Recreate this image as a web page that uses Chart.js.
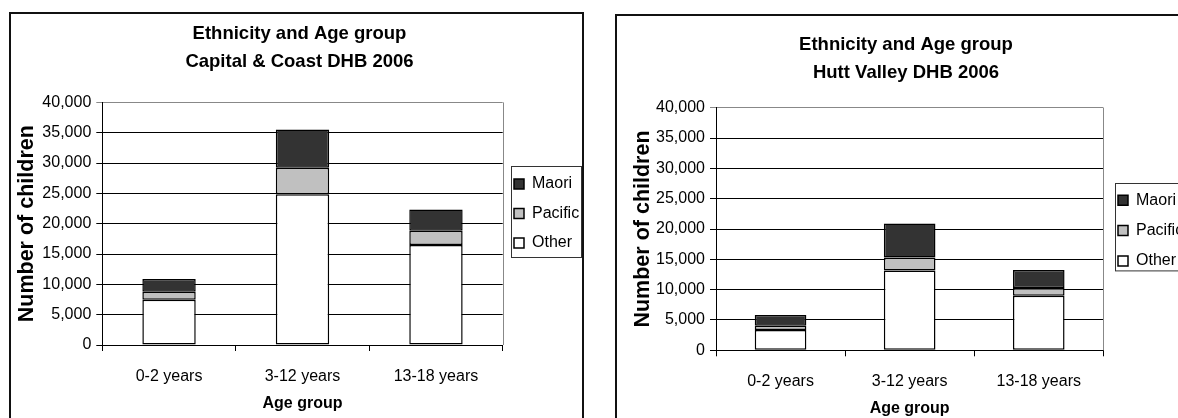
<!DOCTYPE html>
<html><head><meta charset="utf-8">
<script src="https://cdn.jsdelivr.net/npm/chart.js@4"></script>
<style>
html,body{margin:0;padding:0;background:#fff;overflow:hidden;width:1178px;height:418px;}
.frame{position:absolute;border:2px solid #111;background:#fff;}
#f1{left:9px;top:12px;width:571px;height:410px;}
#f2{left:615px;top:14px;width:571px;height:410px;}
canvas{display:block;}
</style></head><body>
<div class="frame" id="f1"><canvas id="c1" width="571" height="410"></canvas></div>
<div class="frame" id="f2"><canvas id="c2" width="571" height="410"></canvas></div>
<script>
// ---- data ----
const categories = ['0-2 years', '3-12 years', '13-18 years'];
const seriesNames = ['Other', 'Pacific', 'Maori'];
const ccdhbTitle = ['Ethnicity and Age group', 'Capital & Coast DHB 2006'];
const ccdhbOther = [7470, 24840, 16490];
const ccdhbPacific = [1320, 4390, 2360];
const ccdhbMaori = [2090, 6320, 3510];
const hvdhbTitle = ['Ethnicity and Age group', 'Hutt Valley DHB 2006'];
const hvdhbOther = [3350, 13140, 9010];
const hvdhbPacific = [710, 2150, 1270];
const hvdhbMaori = [1770, 5610, 2980];
const yAxisMax = 40000;
const yAxisStep = 5000;
const xAxisTitle = 'Age group';
const yAxisTitle = 'Number of children';

// ---- styles ----
const FAMILY = "'Liberation Sans', Arial, sans-serif";
const LABEL_SIZE = 16;
const seriesColors = ['#ffffff', '#c0c0c0', '#333333'];

function makeChart(id, titleLines, other, pacific, maori, L) {
  const series = [other, pacific, maori];
  const layoutPlugin = {
    id: 'layoutTweaks',
    afterLayout(chart) {
      const tb = chart.titleBlock;
      if (tb) { tb.left = L.titleCenter - 300; tb.right = L.titleCenter + 300; tb.width = 600; }
      const lg = chart.legend;
      if (lg) {
        const p = L.legendPad, fs = LABEL_SIZE;
        const cy = L.legendFirstY - fs / 2;
        const colH = 3 * (fs + p);
        lg.left = L.legendSquareX - p;
        lg.right = L.legendBox.x + L.legendBox.w;
        lg.width = lg.right - lg.left;
        lg.top = cy - p;
        lg.bottom = cy + colH + 2;
        lg.height = lg.bottom - lg.top;
      }
    },
    beforeDatasetsDraw(chart) {
      const {ctx, chartArea: a} = chart;
      ctx.save();
      ctx.strokeStyle = '#888';
      ctx.lineWidth = 1;
      ctx.beginPath();
      const x = Math.round(a.right) + 0.5;
      ctx.moveTo(x, a.top);
      ctx.lineTo(x, a.bottom);
      ctx.stroke();
      ctx.restore();
    },
    afterDraw(chart) {
      const ctx = chart.ctx, b = L.legendBox;
      ctx.save();
      ctx.strokeStyle = '#333';
      ctx.lineWidth = 1;
      ctx.strokeRect(Math.round(b.x) + 0.5, Math.round(b.y) + 0.5, b.w, b.h);
      ctx.restore();
    }
  };
  return new Chart(document.getElementById(id), {
    type: 'bar',
    data: {
      labels: categories,
      datasets: seriesNames.map((name, i) => ({
        label: name,
        data: series[i],
        backgroundColor: seriesColors[i],
        borderColor: '#000',
        borderWidth: 1.5,
        borderSkipped: false,
        barPercentage: 0.4,
        categoryPercentage: 1
      }))
    },
    options: {
      responsive: false,
      animation: false,
      events: [],
      layout: { padding: { left: L.padL, right: L.padR, top: 0, bottom: L.padB } },
      plugins: {
        title: {
          display: true,
          text: titleLines,
          color: '#000',
          font: { family: FAMILY, size: 18.5, weight: 'bold', lineHeight: 1.5 },
          padding: { top: L.titleTop, bottom: L.titleBottom }
        },
        legend: {
          display: true,
          position: 'chartArea',
          reverse: true,
          labels: {
            boxWidth: 10, boxHeight: 10,
            padding: L.legendPad,
            color: '#000',
            font: { family: FAMILY, size: LABEL_SIZE }
          }
        },
        tooltip: { enabled: false }
      },
      scales: {
        x: {
          stacked: true,
          grid: { display: true, drawOnChartArea: false, drawTicks: true, tickLength: 6, color: '#000', lineWidth: 1, offset: true },
          border: { display: true, color: '#000', width: 1 },
          ticks: { color: '#000', font: { family: FAMILY, size: LABEL_SIZE }, padding: L.xTickPad, maxRotation: 0, autoSkip: false },
          title: { display: true, text: xAxisTitle, color: '#000', font: { family: FAMILY, size: 16, weight: 'bold' }, padding: 0 },
          afterFit: s => { s.height = L.xScaleHeight; }
        },
        y: {
          stacked: true,
          min: 0,
          max: yAxisMax,
          ticks: { stepSize: yAxisStep, color: '#000', font: { family: FAMILY, size: LABEL_SIZE }, padding: 5,
                   callback: v => Number(v).toLocaleString('en-US') },
          grid: { color: c => (c.tick && c.tick.value === yAxisMax) ? '#888' : '#000', lineWidth: 1, tickLength: 6 },
          border: { display: true, color: '#000', width: 1 },
          title: { display: true, text: yAxisTitle, color: '#000', font: { family: FAMILY, size: 21.5, weight: 'bold' },
                   padding: { top: L.yTitlePad, bottom: 0 } },
          afterFit: s => { s.width = L.yWidth; }
        }
      }
    },
    plugins: [layoutPlugin]
  });
}

makeChart('c1', ccdhbTitle, ccdhbOther, ccdhbPacific, ccdhbMaori, {
  padL: 4, padR: 79.3, padB: 11, yWidth: 87.3, yTitlePad: -1,
  titleTop: 6.1, titleBottom: 26.8, titleCenter: 288.5,
  legendBox: { x: 500, y: 152, w: 70, h: 91 }, legendSquareX: 503, legendFirstY: 169, legendPad: 13.5,
  xScaleHeight: 68, xTickPad: 15.5
});
makeChart('c2', hvdhbTitle, hvdhbOther, hvdhbPacific, hvdhbMaori, {
  padL: 4, padR: 84.7, padB: 7.7, yWidth: 95, yTitlePad: 9,
  titleTop: 15.1, titleBottom: 21.1, titleCenter: 289,
  legendBox: { x: 498, y: 167, w: 100, h: 87.4 }, legendSquareX: 501, legendFirstY: 183.3, legendPad: 14.3,
  xScaleHeight: 68, xTickPad: 15.5
});
</script>
</body></html>
